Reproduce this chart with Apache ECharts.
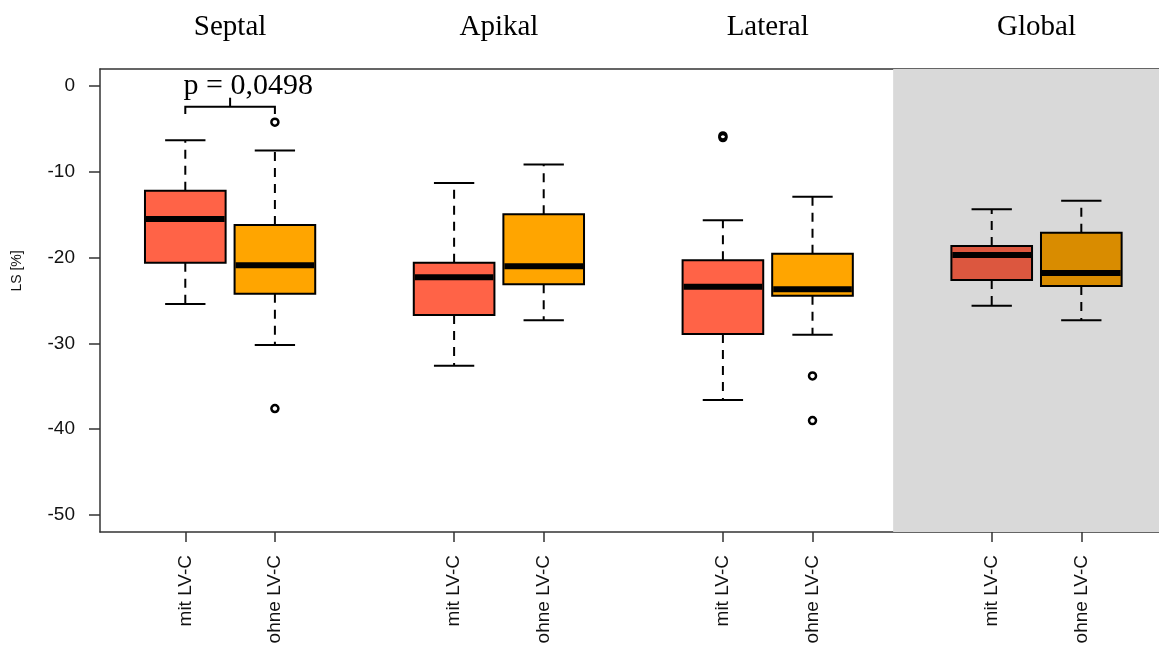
<!DOCTYPE html>
<html><head><meta charset="utf-8">
<script src="https://cdn.jsdelivr.net/npm/echarts@6/dist/echarts.min.js"></script>
<style>html,body{margin:0;padding:0;background:#fff}#c{width:1159px;height:648px}</style>
</head><body><div id="c"></div>
<script>
// ---- data ----
const groups = ['Septal', 'Apikal', 'Lateral', 'Global'];
const groupCenters = [1.5, 4.5, 7.5, 10.5];
const boxLabels = ['mit LV-C', 'ohne LV-C', 'mit LV-C', 'ohne LV-C', 'mit LV-C', 'ohne LV-C', 'mit LV-C', 'ohne LV-C'];
const boxPositions = [1, 2, 4, 5, 7, 8, 10, 11];
// [lower whisker, Q1, median, Q3, upper whisker]
const septalMit   = [-25.4, -20.6, -15.5, -12.2, -6.3];
const septalOhne  = [-30.2, -24.2, -20.9, -16.2, -7.5];
const apikalMit   = [-32.6, -26.7, -22.3, -20.6, -11.3];
const apikalOhne  = [-27.3, -23.1, -21.0, -14.95, -9.15];
const lateralMit  = [-36.6, -28.9, -23.4, -20.3, -15.65];
const lateralOhne = [-29.0, -24.45, -23.7, -19.55, -12.9];
const globalMit   = [-25.6, -22.6, -19.7, -18.65, -14.37];
const globalOhne  = [-27.3, -23.3, -21.8, -17.1, -13.36];
const boxStats = [septalMit, septalOhne, apikalMit, apikalOhne, lateralMit, lateralOhne, globalMit, globalOhne];
const outliers = [[2, -4.2], [2, -37.6], [7, -5.8], [7, -6.0], [8, -33.8], [8, -39.0]];
const yTicks = [0, -10, -20, -30, -40, -50];
const yTitle = 'LS [%]';
const pLabel = 'p = 0,0498';
const pLabelPos = [0.98, -0.05];
const bracketX = [1, 2];
const bracketY = -2.4, bracketEndY = -3.25, bracketTipY = -1.35;
const shadedFrom = 8.9;

// ---- styles ----
const boxFill = ['#FF6347', '#FFA500', '#FF6347', '#FFA500', '#FF6347', '#FFA500', '#DC573F', '#D98C00'];
const xMin = 0.048, xMax = 11.867, yMin = -52, yMax = 2;
const halfBox = 0.45, halfCap = 0.225;

const boxData = boxStats.map((s, i) => [boxPositions[i]].concat(s));

function renderBox(params, api) {
  const pos = api.value(0);
  const lo = api.value(1), q1 = api.value(2), med = api.value(3), q3 = api.value(4), hi = api.value(5);
  const tl = api.coord([pos - halfBox, q3]);
  const br = api.coord([pos + halfBox, q1]);
  const c = api.coord([pos, med]);
  const yHi = api.coord([pos, hi])[1], yLo = api.coord([pos, lo])[1];
  const cl = api.coord([pos - halfCap, hi])[0], cr = api.coord([pos + halfCap, hi])[0];
  const xc = c[0];
  const dash = { stroke: '#000', lineWidth: 2, lineDash: [9, 7] };
  const solid = { stroke: '#000', lineWidth: 2 };
  return {
    type: 'group', children: [
      { type: 'line', shape: { x1: xc, y1: tl[1], x2: xc, y2: yHi }, style: dash },
      { type: 'line', shape: { x1: xc, y1: br[1], x2: xc, y2: yLo }, style: dash },
      { type: 'line', shape: { x1: cl, y1: yHi, x2: cr, y2: yHi }, style: solid },
      { type: 'line', shape: { x1: cl, y1: yLo, x2: cr, y2: yLo }, style: solid },
      { type: 'rect', shape: { x: tl[0], y: tl[1], width: br[0] - tl[0], height: br[1] - tl[1] },
        style: { fill: boxFill[params.dataIndex], stroke: '#000', lineWidth: 2 } },
      { type: 'line', shape: { x1: tl[0] + 1, y1: c[1], x2: br[0] - 1, y2: c[1] }, style: { stroke: '#000', lineWidth: 6 } }
    ]
  };
}

function renderBracket(params, api) {
  const a = api.coord([bracketX[0], bracketY]);
  const b = api.coord([bracketX[1], bracketY]);
  const aEnd = api.coord([bracketX[0], bracketEndY]);
  const mid = api.coord([(bracketX[0] + bracketX[1]) / 2, bracketTipY]);
  const t = api.coord(pLabelPos);
  const st = { stroke: '#000', lineWidth: 2, fill: null };
  return {
    type: 'group', children: [
      { type: 'polyline', shape: { points: [[a[0], aEnd[1]], a, b, [b[0], aEnd[1]]] }, style: st },
      { type: 'line', shape: { x1: mid[0], y1: a[1], x2: mid[0], y2: mid[1] }, style: st },
      { type: 'text', x: t[0], y: t[1], style: { text: pLabel, fill: '#000', font: '30px "Liberation Serif", serif', align: 'left', verticalAlign: 'middle' } }
    ]
  };
}

const chart = echarts.init(document.getElementById('c'), null, { renderer: 'canvas' });
chart.setOption({
  animation: false,
  backgroundColor: '#fff',
  grid: { left: 100, right: 0, top: 69, bottom: 116, containLabel: false, outerBoundsMode: 'none' },
  graphic: [{
    type: 'text', x: 17, y: 271, rotation: Math.PI / 2,
    style: { text: yTitle, fill: '#111', font: '14px "Liberation Sans", Arial, sans-serif', align: 'center', verticalAlign: 'middle' }
  }],
  xAxis: [{
    type: 'value', min: xMin, max: xMax, position: 'bottom',
    axisLine: { show: true, onZero: false, lineStyle: { color: '#333', width: 1.5 } },
    axisTick: { show: true, length: 10, customValues: boxPositions, lineStyle: { color: '#333', width: 1.5 } },
    axisLabel: {
      show: true, rotate: 90, margin: 23, fontSize: 19, color: '#111', fontFamily: '"Liberation Sans", Arial, sans-serif',
      customValues: boxPositions,
      formatter: v => boxLabels[boxPositions.indexOf(Math.round(v))] || ''
    },
    splitLine: { show: false }
  }, {
    type: 'value', min: xMin, max: xMax, position: 'top',
    axisLine: { show: true, onZero: false, lineStyle: { color: '#333', width: 1.5 } },
    axisTick: { show: false },
    axisLabel: {
      show: true, margin: 27, fontSize: 29, color: '#000', fontFamily: '"Liberation Serif", serif',
      customValues: groupCenters,
      formatter: v => groups[groupCenters.indexOf(v)] || ''
    },
    splitLine: { show: false }
  }],
  yAxis: {
    type: 'value', min: yMin, max: yMax,
    axisLine: { show: true, onZero: false, lineStyle: { color: '#333', width: 1.5 } },
    axisTick: { show: true, length: 11, customValues: yTicks, lineStyle: { color: '#333', width: 1.5 } },
    axisLabel: { show: true, margin: 25, fontSize: 19, color: '#111', fontFamily: '"Liberation Sans", Arial, sans-serif', customValues: yTicks },
    splitLine: { show: false }
  },
  series: [{
    type: 'line', data: [], z: 0, silent: true,
    markArea: { silent: true, itemStyle: { color: '#D9D9D9' }, data: [[{ xAxis: shadedFrom }, { xAxis: xMax }]] }
  }, {
    type: 'custom', z: 3, renderItem: renderBox, data: boxData, clip: false,
    encode: { x: 0, y: [1, 2, 3, 4, 5] }
  }, {
    type: 'scatter', z: 4, data: outliers, symbol: 'circle', symbolSize: 7,
    itemStyle: { color: 'rgba(255,255,255,0)', borderColor: '#000', borderWidth: 2.5, opacity: 1 }
  }, {
    type: 'custom', z: 4, renderItem: renderBracket, data: [[0]], clip: false
  }]
});
</script></body></html>
